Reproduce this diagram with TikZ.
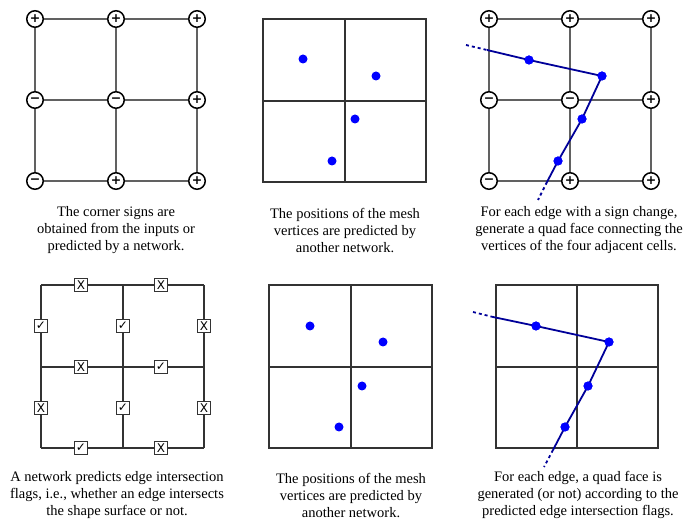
\documentclass[tikz,border=0pt]{standalone}
\usepackage{fontspec}
\setmainfont{Liberation Serif}
\newfontfamily\symfont{DejaVu Sans}
\begin{document}
\begin{tikzpicture}[x=1pt,y=-1pt,
  gridline/.style={draw=black!62,line width=1.7pt},
  boxline/.style={draw=black!80,line width=1.5pt},
  sgn/.style={circle,draw=black,line width=1.5pt,fill=white,minimum size=16.5pt,inner sep=0pt,font=\symfont\bfseries\fontsize{12.5}{12.5}\selectfont},
  flag/.style={rectangle,draw=black!80,line width=1.3pt,fill=white,minimum size=13.5pt,inner sep=0pt},
  dot/.style={circle,fill=blue,minimum size=9pt,inner sep=0pt},
  surf/.style={draw=blue!60!black,line width=1.8pt},
  surfdash/.style={draw=blue!60!black,line width=1.8pt,dash pattern=on 3pt off 3pt},
  captext/.style={align=center,font=\fontsize{14.5}{17}\selectfont}
]
\useasboundingbox (0,0) rectangle (694,521);

% ---------- Panel 1: corner signs ----------
\node[sgn] (a11) at (35,19) {+};
\node[sgn] (a12) at (116,19) {+};
\node[sgn] (a13) at (197,19) {+};
\node[sgn] (a21) at (35,100) {−};
\node[sgn] (a22) at (116,100) {−};
\node[sgn] (a23) at (197,100) {+};
\node[sgn] (a31) at (35,181) {−};
\node[sgn] (a32) at (116,181) {+};
\node[sgn] (a33) at (197,181) {+};
\draw[gridline] (a11)--(a12) (a12)--(a13) (a21)--(a22) (a22)--(a23) (a31)--(a32) (a32)--(a33)
  (a11)--(a21) (a21)--(a31) (a12)--(a22) (a22)--(a32) (a13)--(a23) (a23)--(a33);

% ---------- Panel 2: vertices ----------
\coordinate (b11) at (263,19); \coordinate (b13) at (426,19);
\coordinate (b31) at (263,182); \coordinate (b33) at (426,182);
\coordinate (b12) at (345,19); \coordinate (b32) at (345,182);
\coordinate (b21) at (263,101); \coordinate (b23) at (426,101);
\draw[boxline] (b11) rectangle (b33);
\draw[boxline] (b12)--(b32) (b21)--(b23);
\node[dot] (bv1) at (303,59) {};
\node[dot] (bv2) at (376,76) {};
\node[dot] (bv3) at (355,119) {};
\node[dot] (bv4) at (332,161) {};

% ---------- Panel 3: quads from sign changes ----------
\coordinate (cs0) at (466,45); \coordinate (cs1) at (487,50);
\coordinate (ce1) at (547,182); \coordinate (ce0) at (538,200);
\node[dot] (cv1) at (529,60) {};
\node[dot] (cv2) at (602,76) {};
\node[dot] (cv3) at (582,119) {};
\node[dot] (cv4) at (558,161) {};
\draw[gridline] (489,19)--(651,19) (489,100)--(651,100) (489,181)--(651,181)
  (489,19)--(489,181) (570,19)--(570,181) (651,19)--(651,181);
\draw[surfdash] (cs0)--(cs1);
\draw[surf] (cs1)--(cv1.center)--(cv2.center)--(cv3.center)--(cv4.center)--(ce1);
\draw[surfdash] (ce1)--(ce0);
\node[sgn] (c11) at (489,19) {+};
\node[sgn] (c12) at (570,19) {+};
\node[sgn] (c13) at (651,19) {+};
\node[sgn] (c21) at (489,100) {−};
\node[sgn] (c22) at (570,100) {−};
\node[sgn] (c23) at (651,100) {+};
\node[sgn] (c31) at (489,181) {−};
\node[sgn] (c32) at (570,181) {+};
\node[sgn] (c33) at (651,181) {+};
\node[dot] at (cv1) {};
\node[dot] at (cv2) {};
\node[dot] at (cv3) {};
\node[dot] at (cv4) {};

% ---------- Panel 4: edge flags ----------
\coordinate (d11) at (41,285); \coordinate (d12) at (123,285); \coordinate (d13) at (204,285);
\coordinate (d21) at (41,367); \coordinate (d22) at (123,367); \coordinate (d23) at (204,367);
\coordinate (d31) at (41,448); \coordinate (d32) at (123,448); \coordinate (d33) at (204,448);
\draw[boxline] (d11)--(d13) (d21)--(d23) (d31)--(d33) (d11)--(d31) (d12)--(d32) (d13)--(d33);
\newcommand{\fx}{\symfont\fontsize{12}{12}\selectfont X}
\newcommand{\fc}{\symfont\fontsize{12}{12}\selectfont ✓}
\node[flag] (f1) at (81,285) {\fx};
\node[flag] (f2) at (161,285) {\fx};
\node[flag] (f3) at (41,326) {\fc};
\node[flag] (f4) at (123,326) {\fc};
\node[flag] (f5) at (204,326) {\fx};
\node[flag] (f6) at (81,367) {\fx};
\node[flag] (f7) at (161,367) {\fc};
\node[flag] (f8) at (41,408) {\fx};
\node[flag] (f9) at (123,408) {\fc};
\node[flag] (f10) at (204,408) {\fx};
\node[flag] (f11) at (81,448) {\fc};
\node[flag] (f12) at (161,448) {\fx};

% ---------- Panel 5: vertices ----------
\coordinate (e11) at (269,285); \coordinate (e33) at (432,448);
\coordinate (e12) at (351,285); \coordinate (e32) at (351,448);
\coordinate (e21) at (269,367); \coordinate (e23) at (432,367);
\draw[boxline] (e11) rectangle (e33);
\draw[boxline] (e12)--(e32) (e21)--(e23);
\node[dot] (ev1) at (310,326) {};
\node[dot] (ev2) at (383,342) {};
\node[dot] (ev3) at (362,386) {};
\node[dot] (ev4) at (339,427) {};

% ---------- Panel 6: quads from flags ----------
\coordinate (g11) at (496,285); \coordinate (g33) at (658,448);
\coordinate (g12) at (577,285); \coordinate (g32) at (577,448);
\coordinate (g21) at (496,367); \coordinate (g23) at (658,367);
\draw[boxline] (g11) rectangle (g33);
\draw[boxline] (g12)--(g32) (g21)--(g23);
\coordinate (gs0) at (473,312); \coordinate (gs1) at (493,317);
\coordinate (ge1) at (553,450); \coordinate (ge0) at (544,467);
\node[dot] (gv1) at (536,326) {};
\node[dot] (gv2) at (609,342) {};
\node[dot] (gv3) at (588,386) {};
\node[dot] (gv4) at (565,427) {};
\draw[surfdash] (gs0)--(gs1);
\draw[surf] (gs1)--(gv1.center)--(gv2.center)--(gv3.center)--(gv4.center)--(ge1);
\draw[surfdash] (ge1)--(ge0);
\node[dot] at (gv1) {};
\node[dot] at (gv2) {};
\node[dot] at (gv3) {};
\node[dot] at (gv4) {};

% ---------- Captions ----------
\node[captext] (t1) at (116,230) {The corner signs are\\obtained from the inputs or\\predicted by a network.};
\node[captext] (t2) at (345,230) {The positions of the mesh\\vertices are predicted by\\another network.};
\node[captext] (t3) at (579,230) {For each edge with a sign change,\\generate a quad face connecting the\\vertices of the four adjacent cells.};
\node[captext] (t4) at (117,495) {A network predicts edge intersection\\flags, i.e., whether an edge intersects\\the shape surface or not.};
\node[captext] (t5) at (351,495) {The positions of the mesh\\vertices are predicted by\\another network.};
\node[captext] (t6) at (578,495) {For each edge, a quad face is\\generated (or not) according to the\\predicted edge intersection flags.};
\end{tikzpicture}
\end{document}
